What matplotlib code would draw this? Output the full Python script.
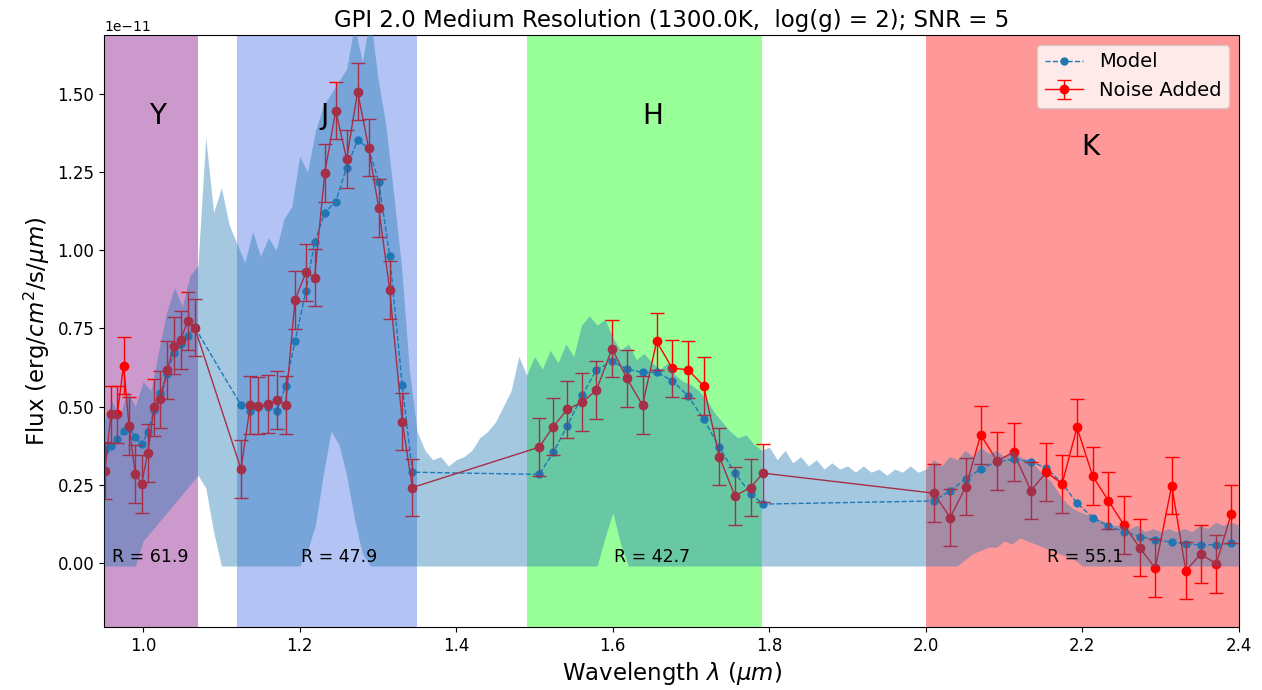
import numpy as np
import matplotlib
matplotlib.use("Agg")
import matplotlib.pyplot as plt

SCALE = 1e-11

# binned wavelengths (um) for the four bands
wl_y = [0.951, 0.959, 0.967, 0.975, 0.982, 0.990, 0.998, 1.006, 1.014, 1.022,
        1.031, 1.039, 1.048, 1.057, 1.066]
wl_j = [1.125, 1.137, 1.147, 1.159, 1.171, 1.182, 1.194, 1.208, 1.219, 1.232,
        1.246, 1.260, 1.274, 1.288, 1.301, 1.315, 1.331, 1.344]
wl_h = [1.506, 1.524, 1.542, 1.561, 1.579, 1.599, 1.618, 1.638, 1.656, 1.676,
        1.696, 1.716, 1.736, 1.756, 1.776, 1.792]
wl_k = [2.010, 2.031, 2.051, 2.070, 2.091, 2.112, 2.134, 2.154, 2.174, 2.193,
        2.213, 2.233, 2.253, 2.273, 2.293, 2.314, 2.332, 2.351, 2.371, 2.390]

# model flux (1e-11 erg/cm2/s/um)
model_y = [0.361, 0.374, 0.395, 0.422, 0.430, 0.401, 0.379, 0.418, 0.489, 0.542,
           0.604, 0.670, 0.699, 0.726, 0.753]
model_j = [0.505, 0.487, 0.500, 0.500, 0.487, 0.566, 0.708, 0.870, 1.025, 1.120,
           1.155, 1.264, 1.352, 1.326, 1.219, 0.981, 0.569, 0.290]
model_h = [0.283, 0.353, 0.439, 0.536, 0.617, 0.644, 0.620, 0.609, 0.609, 0.583,
           0.534, 0.460, 0.370, 0.288, 0.221, 0.188]
model_k = [0.198, 0.231, 0.268, 0.300, 0.324, 0.331, 0.324, 0.303, 0.255, 0.191,
           0.145, 0.118, 0.100, 0.084, 0.074, 0.066, 0.060, 0.058, 0.058, 0.063]

# noisy flux
noisy_y = [0.295, 0.475, 0.475, 0.631, 0.438, 0.284, 0.253, 0.352, 0.497, 0.523,
           0.616, 0.695, 0.713, 0.774, 0.752]
noisy_j = [0.300, 0.505, 0.503, 0.508, 0.521, 0.505, 0.841, 0.929, 0.912, 1.246,
           1.446, 1.291, 1.507, 1.328, 1.134, 0.873, 0.452, 0.241]
noisy_h = [0.370, 0.436, 0.491, 0.514, 0.552, 0.685, 0.590, 0.504, 0.708, 0.622,
           0.618, 0.566, 0.340, 0.214, 0.241, 0.287]
noisy_k = [0.223, 0.145, 0.244, 0.409, 0.326, 0.354, 0.231, 0.290, 0.253, 0.433,
           0.278, 0.199, 0.121, 0.049, -0.017, 0.247, -0.025, 0.028, -0.003, 0.157]
noise_err = 0.092

# high resolution spectrum envelope, sampled every 0.01 um from 0.95 to 2.40
hr_upper = [0.45, 0.52, 0.47, 0.55, 0.50, 0.58, 0.55, 0.68, 0.80, 0.88,
            0.82, 0.92, 0.95, 1.36, 1.12, 1.20, 1.08, 1.02, 0.96, 1.06,
            0.98, 1.04, 1.00, 1.10, 1.14, 1.30, 1.25, 1.38, 1.46, 1.50,
            1.54, 1.58, 1.72, 1.60, 1.75, 1.55, 1.40, 1.18, 0.95, 0.62,
            0.42, 0.36, 0.33, 0.34, 0.31, 0.33, 0.34, 0.36, 0.40, 0.42,
            0.45, 0.50, 0.55, 0.66, 0.60, 0.66, 0.62, 0.68, 0.64, 0.70,
            0.66, 0.76, 0.79, 0.76, 0.78, 0.72, 0.68, 0.70, 0.65, 0.67,
            0.64, 0.62, 0.64, 0.60, 0.58, 0.57, 0.55, 0.52, 0.48, 0.45,
            0.42, 0.40, 0.41, 0.38, 0.36, 0.37, 0.33, 0.36, 0.32, 0.34,
            0.31, 0.33, 0.30, 0.32, 0.30, 0.31, 0.29, 0.31, 0.29, 0.30,
            0.28, 0.30, 0.29, 0.31, 0.29, 0.30,
            0.33, 0.31, 0.34, 0.33, 0.36, 0.34, 0.37, 0.35, 0.36, 0.34,
            0.36, 0.34, 0.33, 0.31, 0.28, 0.26, 0.22, 0.19, 0.17, 0.16,
            0.15, 0.14, 0.13, 0.12, 0.12, 0.11, 0.12, 0.10, 0.11, 0.10,
            0.11, 0.10, 0.11, 0.10, 0.12, 0.11, 0.13, 0.12, 0.13, 0.12]
hr_lower = ([-0.01] * 5
            + [0.07, 0.10, 0.13, 0.16, 0.19, 0.22, 0.25, 0.28, 0.24, 0.10]
            + [-0.01] * 11
            + [0.04, 0.12, 0.28, 0.42, 0.38, 0.28, 0.14, 0.03]
            + [-0.01] * 30
            + [0.08, 0.16, 0.06]
            + [-0.01] * 43
            + [0.01, 0.03, 0.04, 0.05, 0.05, 0.07, 0.06, 0.08, 0.07, 0.06,
               0.05, 0.04, 0.03, 0.02, 0.01]
            + [-0.01] * 21)

bands = ["Y", "J", "H", "K"]
band_edges = [(0.95, 1.07), (1.12, 1.35), (1.49, 1.79), (2.0, 2.4)]
band_colors = ["purple", "royalblue", "lime", "red"]
band_label_pos = [(1.019, 1.43), (1.232, 1.43), (1.651, 1.43), (2.21, 1.33)]
res_labels = ["R = 61.9", "R = 47.9", "R = 42.7", "R = 55.1"]
res_label_x = [1.009, 1.251, 1.650, 2.204]

wl = np.array(wl_y + wl_j + wl_h + wl_k)
model = np.array(model_y + model_j + model_h + model_k) * SCALE
noisy = np.array(noisy_y + noisy_j + noisy_h + noisy_k) * SCALE
wl_hr = np.round(np.arange(0.95, 2.405, 0.01), 2)
upper = np.array(hr_upper) * SCALE
lower = np.array(hr_lower) * SCALE

fig = plt.figure(figsize=(12.62, 6.90), dpi=100)
ax = fig.add_axes([0.0824, 0.0913, 0.8994, 0.858])

for (lo, hi), c in zip(band_edges, band_colors):
    ax.axvspan(lo, hi, color=c, alpha=0.4, lw=0, zorder=0)

m_line, = ax.plot(wl, model, 'o--', color='C0', ms=5, lw=1, label='Model', zorder=2)
eb = ax.errorbar(wl, noisy, yerr=noise_err * SCALE, fmt='o-', color='red', ms=6,
                 lw=1, elinewidth=1, capsize=5, label='Noise Added', zorder=2)

ax.fill_between(wl_hr, lower, upper, color='C0', alpha=0.4, lw=0, zorder=3)

for name, (tx, ty) in zip(bands, band_label_pos):
    ax.text(tx, ty * SCALE, name, fontsize=20, ha='center', va='center', zorder=4)
for lab, tx in zip(res_labels, res_label_x):
    ax.text(tx, 0.02 * SCALE, lab, fontsize=12.5, ha='center', va='center', zorder=4)

ax.set_xlim(0.95, 2.4)
ax.set_ylim(-0.205 * SCALE, 1.688 * SCALE)
ax.set_xticks([1.0, 1.2, 1.4, 1.6, 1.8, 2.0, 2.2, 2.4])
ax.set_yticks(np.array([0.0, 0.25, 0.5, 0.75, 1.0, 1.25, 1.5]) * SCALE)
ax.tick_params(labelsize=12)
ax.set_xlabel(r'Wavelength $\lambda$ ($\mu m$)', fontsize=16.5)
ax.set_ylabel(r'Flux (erg/$cm^2$/s/$\mu m$)', fontsize=16.5)
ax.set_title('GPI 2.0 Medium Resolution (1300.0K,  log(g) = 2); SNR = 5', fontsize=16.5)
ax.legend(loc='upper right', fontsize=14)

fig.savefig('out.png', dpi=100)
